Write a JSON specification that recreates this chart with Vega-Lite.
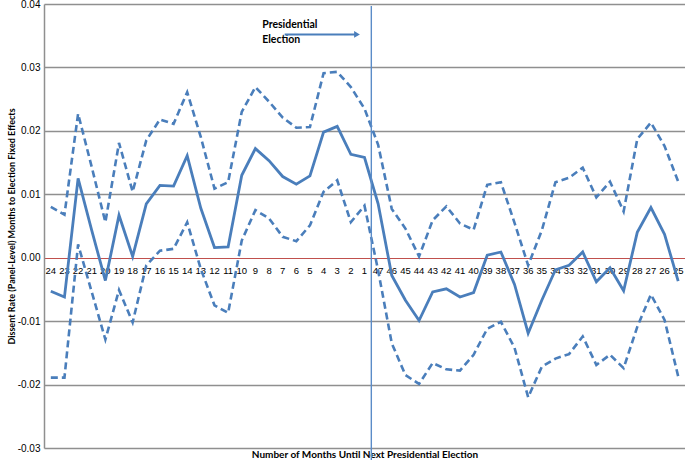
{
  "$schema": "https://vega.github.io/schema/vega-lite/v6.json",
  "width": 641,
  "height": 444,
  "autosize": {"type": "none"},
  "padding": {"left": 44, "top": 4, "right": 0, "bottom": 12},
  "background": "white",
  "config": {"view": {"stroke": null}, "font": "Liberation Sans"},
  "data": {
    "values": [
      {"month": "24", "est": -0.0053, "upper": 0.0080, "lower": -0.0189},
      {"month": "23", "est": -0.0062, "upper": 0.0068, "lower": -0.0189},
      {"month": "22", "est": 0.0125, "upper": 0.0227, "lower": 0.0021},
      {"month": "21", "est": 0.0043, "upper": 0.0143, "lower": -0.0054},
      {"month": "20", "est": -0.0036, "upper": 0.0056, "lower": -0.0129},
      {"month": "19", "est": 0.0067, "upper": 0.0181, "lower": -0.0051},
      {"month": "18", "est": 0.0002, "upper": 0.0104, "lower": -0.0102},
      {"month": "17", "est": 0.0085, "upper": 0.0185, "lower": -0.0012},
      {"month": "16", "est": 0.0114, "upper": 0.0218, "lower": 0.0011},
      {"month": "15", "est": 0.0113, "upper": 0.0211, "lower": 0.0014},
      {"month": "14", "est": 0.0161, "upper": 0.0261, "lower": 0.0056},
      {"month": "13", "est": 0.0078, "upper": 0.0190, "lower": -0.0018},
      {"month": "12", "est": 0.0016, "upper": 0.0109, "lower": -0.0075},
      {"month": "11", "est": 0.0017, "upper": 0.0119, "lower": -0.0087},
      {"month": "10", "est": 0.0130, "upper": 0.0230, "lower": 0.0027},
      {"month": "9", "est": 0.0172, "upper": 0.0269, "lower": 0.0075},
      {"month": "8", "est": 0.0153, "upper": 0.0246, "lower": 0.0062},
      {"month": "7", "est": 0.0128, "upper": 0.0221, "lower": 0.0033},
      {"month": "6", "est": 0.0116, "upper": 0.0205, "lower": 0.0026},
      {"month": "5", "est": 0.0129, "upper": 0.0206, "lower": 0.0051},
      {"month": "4", "est": 0.0198, "upper": 0.0291, "lower": 0.0104},
      {"month": "3", "est": 0.0207, "upper": 0.0293, "lower": 0.0122},
      {"month": "2", "est": 0.0163, "upper": 0.0269, "lower": 0.0056},
      {"month": "1", "est": 0.0158, "upper": 0.0235, "lower": 0.0082},
      {"month": "47", "est": 0.0085, "upper": 0.0178, "lower": -0.0020},
      {"month": "46", "est": -0.0028, "upper": 0.0077, "lower": -0.0135},
      {"month": "45", "est": -0.0067, "upper": 0.0046, "lower": -0.0185},
      {"month": "44", "est": -0.0099, "upper": 0.0002, "lower": -0.0199},
      {"month": "43", "est": -0.0054, "upper": 0.0059, "lower": -0.0166},
      {"month": "42", "est": -0.0049, "upper": 0.0081, "lower": -0.0176},
      {"month": "41", "est": -0.0062, "upper": 0.0054, "lower": -0.0178},
      {"month": "40", "est": -0.0055, "upper": 0.0044, "lower": -0.0153},
      {"month": "39", "est": 0.0004, "upper": 0.0115, "lower": -0.0112},
      {"month": "38", "est": 0.0009, "upper": 0.0119, "lower": -0.0101},
      {"month": "37", "est": -0.0042, "upper": 0.0055, "lower": -0.0142},
      {"month": "36", "est": -0.0119, "upper": -0.0012, "lower": -0.0220},
      {"month": "35", "est": -0.0067, "upper": 0.0043, "lower": -0.0172},
      {"month": "34", "est": -0.0019, "upper": 0.0119, "lower": -0.0159},
      {"month": "33", "est": -0.0012, "upper": 0.0126, "lower": -0.0152},
      {"month": "32", "est": 0.0009, "upper": 0.0142, "lower": -0.0124},
      {"month": "31", "est": -0.0038, "upper": 0.0095, "lower": -0.0169},
      {"month": "30", "est": -0.0016, "upper": 0.0120, "lower": -0.0153},
      {"month": "29", "est": -0.0052, "upper": 0.0073, "lower": -0.0174},
      {"month": "28", "est": 0.0040, "upper": 0.0187, "lower": -0.0109},
      {"month": "27", "est": 0.0079, "upper": 0.0213, "lower": -0.0058},
      {"month": "26", "est": 0.0037, "upper": 0.0176, "lower": -0.0098},
      {"month": "25", "est": -0.0037, "upper": 0.0120, "lower": -0.0187}
    ]
  },
  "encoding": {
    "x": {
      "field": "month",
      "type": "ordinal",
      "bandPosition": 0.5,
      "scale": {
        "type": "band",
        "paddingInner": 0,
        "paddingOuter": 0,
        "domain": ["24","23","22","21","20","19","18","17","16","15","14","13","12","11","10","9","8","7","6","5","4","3","2","1","47","46","45","44","43","42","41","40","39","38","37","36","35","34","33","32","31","30","29","28","27","26","25"]
      },
      "axis": {
        "orient": "bottom",
        "offset": -190.3,
        "domain": false,
        "ticks": false,
        "grid": false,
        "labelAngle": 0,
        "labelPadding": 8,
        "labelFontSize": 9.5,
        "labelColor": "#000000",
        "labelOverlap": false,
        "title": "Number of Months  Until Next Presidential  Election",
        "titleFont": "Lato",
        "titleFontSize": 10,
        "titleFontWeight": "bold",
        "titleColor": "#000000",
        "titleY": 199.5,
        "titleBaseline": "alphabetic"
      }
    }
  },
  "layer": [
    {
      "mark": {"type": "line", "color": "#4a7ebb", "strokeWidth": 2.6, "strokeDash": [7, 4]},
      "encoding": {
        "y": {
          "field": "upper",
          "type": "quantitative",
          "scale": {"domain": [-0.03, 0.04], "nice": false, "zero": false},
          "axis": {
            "values": [-0.03, -0.02, -0.01, 0, 0.01, 0.02, 0.03, 0.04],
            "labelExpr": "replace(format(datum.value, '.2f'), '\u2212', '-')",
            "grid": true,
            "gridColor": {"condition": {"test": "datum.value === 0", "value": "#c0504d"}, "value": "#8f8f8f"},
            "gridWidth": {"condition": {"test": "datum.value === 0", "value": 1.2}, "value": 1.5},
            "domain": true,
            "domainColor": "#8f8f8f",
            "domainWidth": 1.5,
            "ticks": false,
            "labelPadding": 4,
            "labelFontSize": 10,
            "labelColor": "#000000",
            "title": "Dissent Rate (Panel-Level)  Months  to Election Fixed Effects",
            "titleFont": "Lato",
            "titleFontSize": 9,
            "titleFontWeight": "bold",
            "titleColor": "#000000",
            "titleAngle": -90,
            "titleAlign": "center",
            "titleBaseline": "alphabetic",
            "titleX": -30,
            "titleY": 222
          }
        }
      }
    },
    {
      "mark": {"type": "line", "color": "#4a7ebb", "strokeWidth": 2.6, "strokeDash": [7, 4]},
      "encoding": {"y": {"field": "lower", "type": "quantitative"}}
    },
    {
      "mark": {"type": "line", "color": "#4a7ebb", "strokeWidth": 2.8},
      "encoding": {"y": {"field": "est", "type": "quantitative"}}
    },
    {
      "data": {"values": [{"event": "election"}]},
      "mark": {"type": "rule", "color": "#5b8cc8", "strokeWidth": 1.4, "clip": false},
      "encoding": {
        "x": {"datum": "1", "bandPosition": 1},
        "y": {"datum": 0.0397, "type": "quantitative"},
        "y2": {"datum": -0.0319}
      }
    },
    {
      "data": {"values": [{"event": "election"}]},
      "mark": {"type": "text", "align": "left", "baseline": "top", "font": "Lato", "fontSize": 10.5, "fontWeight": "bold", "lineHeight": 15, "color": "#000000", "text": ["Presidential", "Election"]},
      "encoding": {
        "x": {"datum": "8", "bandPosition": 0},
        "y": {"datum": 0.0375, "type": "quantitative"}
      }
    },
    {
      "data": {"values": [{"event": "election"}]},
      "mark": {"type": "rule", "color": "#4a7ebb", "strokeWidth": 2, "xOffset": 2, "x2Offset": -8},
      "encoding": {
        "x": {"datum": "7"},
        "x2": {"datum": "1"},
        "y": {"datum": 0.0352, "type": "quantitative"}
      }
    },
    {
      "data": {"values": [{"event": "election"}]},
      "mark": {"type": "point", "shape": "triangle-right", "filled": true, "opacity": 1, "color": "#4a7ebb", "size": 45, "xOffset": -7.5},
      "encoding": {
        "x": {"datum": "1"},
        "y": {"datum": 0.0352, "type": "quantitative"}
      }
    }
  ]
}
